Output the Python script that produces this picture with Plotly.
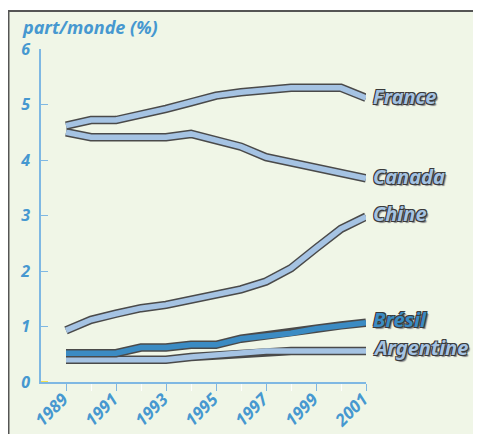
import plotly.graph_objects as go

years = list(range(1989, 2002))
france = [4.62, 4.72, 4.72, 4.81, 4.92, 5.04, 5.16, 5.22, 5.26, 5.30, 5.30, 5.30, 5.12]
canada = [4.50, 4.41, 4.41, 4.41, 4.41, 4.47, 4.35, 4.24, 4.05, 3.96, 3.87, 3.78, 3.67]
chine = [0.93, 1.12, 1.23, 1.33, 1.39, 1.49, 1.58, 1.67, 1.81, 2.05, 2.41, 2.76, 2.98]
bresil = [0.52, 0.52, 0.52, 0.62, 0.62, 0.67, 0.67, 0.78, 0.83, 0.88, 0.96, 1.02, 1.07]
argentine = [0.40, 0.40, 0.40, 0.40, 0.40, 0.45, 0.48, 0.51, 0.56, 0.56, 0.56, 0.56, 0.56]
names = ["Argentine", "Brésil", "Chine", "Canada", "France"]
series = [argentine, bresil, chine, canada, france]
label_yshift = [3, 3.5, 3.5, 2, 1]

light = "#a5c3e3"
dark_blue = "#3b8bc3"
outline = "#4a4a4a"
tick_blue = "#4698d0"
axis_blue = "#7fb8e3"
bg = "#f0f6e7"
font_fam = "Noto Sans, Open Sans, sans-serif"
label_shadow = ("-1px -1px 0 #3a3a3a, 1px -1px 0 #3a3a3a, -1px 1px 0 #3a3a3a, "
                "1px 1px 0 #3a3a3a, 2px 2px 1px #888888")

fig = go.Figure()
annotations = []
for name, vals, ys in zip(names, series, label_yshift):
    fill = dark_blue if name == "Brésil" else light
    fig.add_trace(go.Scatter(x=years, y=vals, mode="lines",
                             line=dict(color=outline, width=8.5),
                             hoverinfo="skip", showlegend=False))
    fig.add_trace(go.Scatter(x=years, y=vals, mode="lines", name=name,
                             line=dict(color=fill, width=5.5),
                             showlegend=False))
    annotations.append(dict(
        x=years[-1], y=vals[-1], xref="x", yref="y", text=name, showarrow=False,
        xanchor="left", yanchor="middle", xshift=5, yshift=ys,
        font=dict(family=font_fam, size=20, color=fill, weight="bold", style="italic",
                  shadow=label_shadow)))

# page body has an 8px margin; figure coordinates = window - 8
W, H = 473, 426
l, r, t, b = 33, 115, 41, 52
pw = W - l - r
ph = H - t - b

def px(xw):
    return (xw - 8 - l) / pw

def py(yw):
    return (H - b - (yw - 8)) / ph

fig.add_shape(type="rect", xref="paper", yref="paper",
              x0=px(8.5), x1=px(520), y0=py(11), y1=py(480),
              fillcolor=bg, line=dict(color="#555555", width=2), layer="below")
fig.add_shape(type="line", xref="x", yref="y", x0=1988, x1=1988.28, y0=0, y1=0,
              line=dict(color="#f2e04a", width=2))

annotations.append(dict(text="part/monde (%)", xref="paper", yref="paper",
                        x=px(20), y=py(27), xanchor="left", yanchor="middle", showarrow=False,
                        font=dict(family=font_fam, size=18, color=tick_blue, weight="bold",
                                  style="italic")))

fig.update_layout(
    width=W, height=H,
    margin=dict(l=l, r=r, t=t, b=b, autoexpand=False),
    paper_bgcolor="white", plot_bgcolor="rgba(0,0,0,0)",
    xaxis=dict(range=[1988, 2001], tickmode="array", tickvals=list(range(1989, 2002, 2)),
               ticktext=[str(y) for y in range(1989, 2002, 2)], automargin=False,
               tickangle=-45, ticks="outside", ticklen=7, tickcolor=axis_blue, tickwidth=1,
               ticklabelstandoff=-8, ticklabelshift=-3,
               minor=dict(tickvals=list(range(1990, 2002, 2)), ticks="outside", ticklen=7,
                          tickcolor="white", tickwidth=1),
               showline=True, linecolor=axis_blue, linewidth=1.5, showgrid=False, zeroline=False,
               tickfont=dict(family=font_fam, size=17, color=tick_blue, weight="bold", style="italic")),
    yaxis=dict(range=[0, 6], tickvals=[0, 1, 2, 3, 4, 5, 6], ticks="inside", ticklen=7,
               tickcolor=axis_blue, showline=True, linecolor=axis_blue, linewidth=1.5,
               showgrid=False, zeroline=False, ticklabelstandoff=6, automargin=False,
               tickfont=dict(family=font_fam, size=16, color=tick_blue, weight="bold", style="italic")),
    annotations=annotations,
)

fig.write_html("out.html")
